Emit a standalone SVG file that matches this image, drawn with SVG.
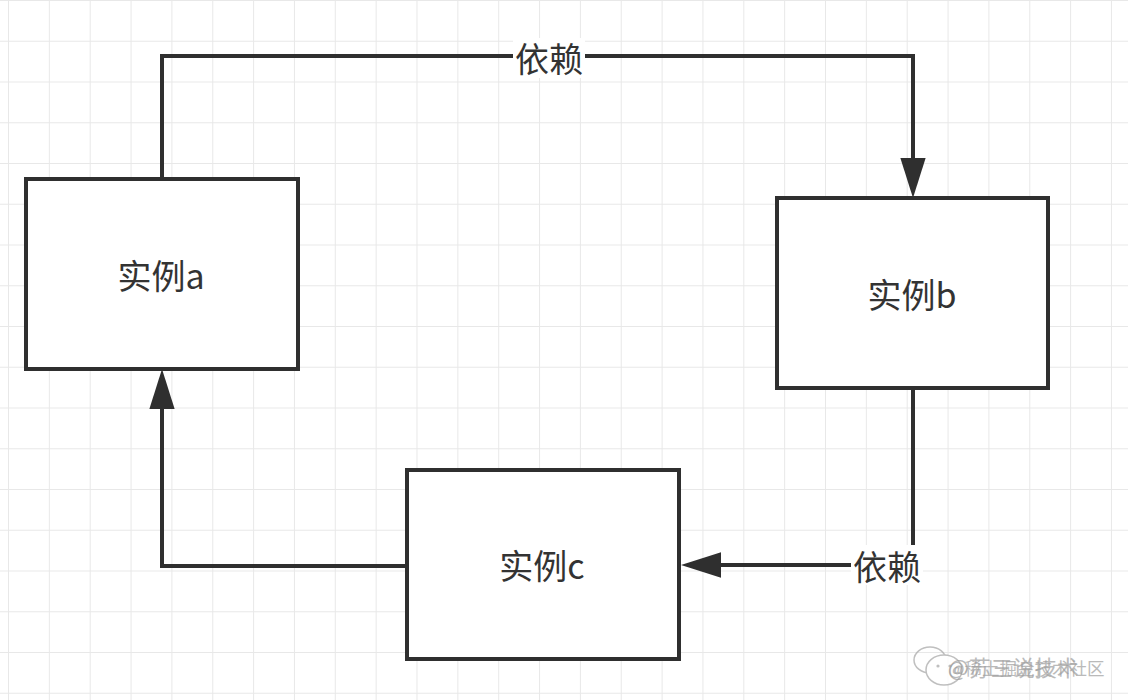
<svg xmlns="http://www.w3.org/2000/svg" width="1128" height="700" viewBox="0 0 1128 700">
  <style>
    .node rect { fill: #ffffff; stroke: #2f2f2f; stroke-width: 4; }
    .node text { font-family: "Noto Sans CJK SC", "Noto Sans", sans-serif; font-size: 34px; fill: #333333; text-anchor: middle; }
    .edge { fill: none; stroke: #2f2f2f; stroke-width: 4; stroke-linejoin: miter; }
    .lbl-bg { fill: #ffffff; }
    .lbl { font-family: "Noto Sans CJK SC", "Noto Sans", sans-serif; font-size: 34px; fill: #333333; text-anchor: middle; }
    .wm { font-family: "Noto Sans CJK SC", "Noto Sans", sans-serif; fill: #8e8e8e; }
  </style>
  <defs>
    <pattern id="grid" x="8" y="0" width="40.85" height="40.75" patternUnits="userSpaceOnUse">
      <path d="M0,0 V40.75 M0,0 H40.85" fill="none" stroke="#e8e8e8" stroke-width="2"/>
    </pattern>
    <marker id="arrow" markerUnits="userSpaceOnUse" markerWidth="40" markerHeight="26" viewBox="0 0 38 24" refX="0" refY="12" orient="auto">
      <path d="M0,0 L38,12 L0,24 Z" fill="#2f2f2f"/>
    </marker>
  </defs>

  <rect x="0" y="0" width="1128" height="700" fill="#ffffff"/>
  <rect x="0" y="0" width="1128" height="700" fill="url(#grid)"/>

  <g id="connectors">
    <path class="edge" d="M162,179 V56 H913 V158" marker-end="url(#arrow)"/>
    <path class="edge" d="M913,388 V565 H721" marker-end="url(#arrow)"/>
    <path class="edge" d="M407,566 H162 V409" marker-end="url(#arrow)"/>
    <g id="label-top">
      <rect class="lbl-bg" x="513" y="38" width="72" height="40"/>
      <text class="lbl" x="549" y="72">依赖</text>
    </g>
    <g id="label-bottom">
      <rect class="lbl-bg" x="851" y="545" width="72" height="40"/>
      <text class="lbl" x="887" y="580">依赖</text>
    </g>
  </g>

  <g id="node-a" class="node">
    <rect x="26" y="179" width="272" height="190"/>
    <text x="161" y="289">实例a</text>
  </g>
  <g id="node-b" class="node">
    <rect x="777" y="198" width="271" height="190"/>
    <text x="912" y="308">实例b</text>
  </g>
  <g id="node-c" class="node">
    <rect x="407" y="470" width="272" height="189"/>
    <text x="542" y="579">实例c</text>
  </g>

  <g id="watermark" opacity="0.85">
    <g fill="none" stroke="#b5b5b5" stroke-width="1.5">
      <ellipse cx="930" cy="660" rx="16" ry="13"/>
      <ellipse cx="944" cy="670" rx="18" ry="15" fill="#ffffff"/>
    </g>
    <circle cx="938" cy="666" r="1.6" fill="#b5b5b5"/>
    <circle cx="950" cy="666" r="1.6" fill="#b5b5b5"/>
    <text class="wm" x="948" y="676" font-size="22" opacity="0.7">@苏三说技术</text>
    <text class="wm" x="948" y="675" font-size="17.5" opacity="0.7">@稀土掘金技术社区</text>
  </g>
</svg>
